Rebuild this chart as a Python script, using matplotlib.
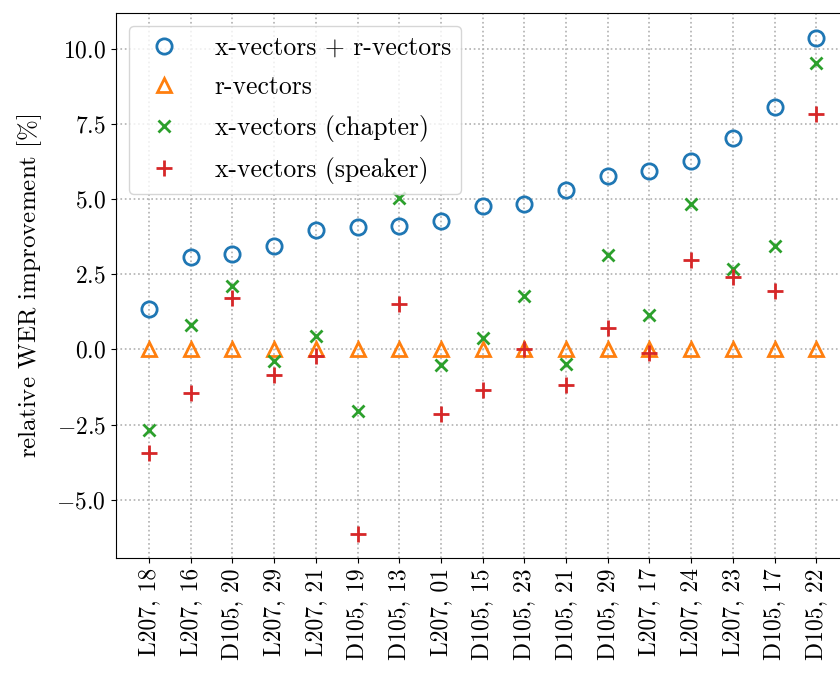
import matplotlib
matplotlib.use("Agg")
import matplotlib.pyplot as plt
import numpy as np

plt.rcParams["font.family"] = "serif"
plt.rcParams["font.serif"] = ["cmr10"]
plt.rcParams["mathtext.fontset"] = "cm"
plt.rcParams["axes.formatter.use_mathtext"] = True
plt.rcParams["font.size"] = 17

# recording, chapter pairs ordered by combined improvement
labels = ["L207, 18", "L207, 16", "D105, 20", "L207, 29", "L207, 21", "D105, 19",
          "D105, 13", "L207, 01", "D105, 15", "D105, 23", "D105, 21", "D105, 29",
          "L207, 17", "L207, 24", "L207, 23", "D105, 17", "D105, 22"]

xr_vectors = [1.34, 3.07, 3.18, 3.46, 3.96, 4.09, 4.11, 4.28, 4.79, 4.85,
              5.31, 5.76, 5.94, 6.29, 7.03, 8.06, 10.37]
r_vectors = [0.0] * 17
x_chapter = [-2.69, 0.82, 2.12, -0.37, 0.46, -2.06, 5.05, -0.51, 0.37, 1.79,
             -0.49, 3.16, 1.14, 4.85, 2.69, 3.45, 9.55]
x_speaker = [-3.46, -1.45, 1.71, -0.86, -0.23, -6.13, 1.52, -2.14, -1.34, 0.01,
             -1.17, 0.72, -0.13, 2.97, 2.42, 1.93, 7.83]

x = np.arange(len(labels))

fig = plt.figure(figsize=(8.4, 6.73), dpi=100)
# right edge runs slightly past the canvas
ax = fig.add_axes([0.1377, 0.1704, 0.8737, 0.810])

ax.plot(x, xr_vectors, "o", color="C0", mfc="none", mew=2, ms=11,
        label="x-vectors + r-vectors")
ax.plot(x, r_vectors, "^", color="C1", mfc="none", mew=2, ms=10,
        label="r-vectors")
ax.plot(x, x_chapter, "x", color="C2", mew=2, ms=8.5,
        label="x-vectors (chapter)")
ax.plot(x, x_speaker, "+", color="C3", mew=2, ms=11.5,
        label="x-vectors (speaker)")

ax.set_xticks(x)
ax.set_xticklabels(labels, rotation=90)
ax.set_yticks([-5.0, -2.5, 0.0, 2.5, 5.0, 7.5, 10.0])
ax.set_ylabel(r"relative WER improvement $[\%]$", fontsize=18, labelpad=9)
ax.grid(True, linestyle=":", color="#b0b0b0", linewidth=1.2)
ax.set_axisbelow(True)

ax.legend(loc="upper left", fontsize=18.5, labelspacing=0.6,
          borderaxespad=0.5, handletextpad=0.95)

fig.savefig("out.png", dpi=100)
